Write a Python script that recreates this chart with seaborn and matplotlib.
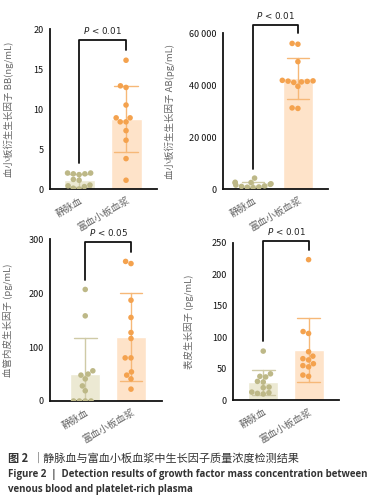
import numpy as np
import pandas as pd
import matplotlib
matplotlib.use('Agg')
import matplotlib.pyplot as plt
import seaborn as sns

sns.set_style('white')
plt.rcParams['font.family'] = ['Noto Sans CJK SC', 'DejaVu Sans']
plt.rcParams['mathtext.fontset'] = 'dejavusans'

groups = ['静脉血', '富血小板血浆']

# 血小板衍生生长因子 BB (ng/mL)
bb_vein = [2.0, 2.0, 1.9, 1.9, 1.8, 1.2, 1.1, 0.5, 0.4, 0.3, 0.1, 0.0]
bb_prp = [16.1, 12.7, 12.9, 10.5, 8.9, 8.4, 8.4, 8.9, 7.3, 6.1, 3.8, 1.1]
# 血小板衍生生长因子 AB (pg/mL)
ab_vein = [4200, 2600, 2500, 2300, 2000, 1800, 1500, 1200, 1000, 800, 700, 500]
ab_prp = [56000, 55700, 49000, 41800, 41600, 41500, 41400, 41200, 41000, 39500, 31000, 31200]
# 血管内皮生长因子 (pg/mL)
vegf_vein = [207, 158, 56, 50, 48, 41, 28, 19, 0, 0, 0, 0]
vegf_prp = [255, 259, 187, 155, 127, 116, 80, 80, 48, 54, 41, 22]
# 表皮生长因子 (pg/mL)
egf_vein = [78, 42, 38, 37, 30, 29, 21, 20, 13, 12, 11, 10]
egf_prp = [223, 109, 106, 77, 70, 66, 64, 58, 55, 53, 40, 38]

ylabels = ['血小板衍生生长因子 BB(ng/mL)', '血小板衍生生长因子 AB(pg/mL)',
           '血管内皮生长因子 (pg/mL)', '表皮生长因子 (pg/mL)']
ptexts = [r'$P$ < 0.01', r'$P$ < 0.01', r'$P$ < 0.05', r'$P$ < 0.01']

dot_c = ['#BDB887', '#F4A24E']
bar_c = ['#ECE9D3', '#FEE3C9']
err_c = ['#CFCAA6', '#F6B878']

panels = [
    dict(vein=bb_vein, prp=bb_prp, rect=[0.1316, 0.6212, 0.2816, 0.3206],
         ylim=20, yticks=[0, 5, 10, 15, 20], xlim=(-0.62, 1.66),
         br=(18.6, 3.3, 17.4), fmt=None, lx=-0.34),
    dict(vein=ab_vein, prp=ab_prp, rect=[0.587, 0.6212, 0.276, 0.3126],
         ylim=60000, yticks=[0, 20000, 40000, 60000], xlim=(-0.67, 1.67),
         br=(63100, 7700, 60000), fmt='sp', lx=-0.46),
    dict(vein=vegf_vein, prp=vegf_prp, rect=[0.1316, 0.1964, 0.295, 0.324],
         ylim=300, yticks=[0, 100, 200, 300], xlim=(-0.77, 1.68),
         br=(295.5, 224, 277), fmt=None, lx=-0.33),
    dict(vein=egf_vein, prp=egf_prp, rect=[0.614, 0.1978, 0.278, 0.316],
         ylim=250, yticks=[0, 50, 100, 150, 200, 250], xlim=(-0.66, 1.67),
         br=(253, 94.5, 239), fmt=None, lx=-0.37),
]

fig = plt.figure(figsize=(3.8, 4.99), dpi=100)

for i, p in enumerate(panels):
    ax = fig.add_axes(p['rect'])
    df = pd.DataFrame({'g': [groups[0]] * len(p['vein']) + [groups[1]] * len(p['prp']),
                       'v': p['vein'] + p['prp']})
    for k, g in enumerate(groups):
        sub = df[df['g'] == g]
        sns.barplot(data=sub, x='g', y='v', order=groups, color=bar_c[k], saturation=1,
                    errorbar='sd', capsize=0.5, width=0.66,
                    err_kws={'color': err_c[k], 'linewidth': 1.0}, ax=ax)
    sns.swarmplot(data=df, x='g', y='v', order=groups, hue='g', palette=dot_c,
                  size=4.0, legend=False, ax=ax, zorder=3)
    ax.set_ylim(0, p['ylim'])
    ax.set_xlim(*p['xlim'])
    ax.set_yticks(p['yticks'])
    if p['fmt'] == 'sp':
        ax.set_yticklabels([f'{t:,}'.replace(',', ' ') for t in p['yticks']])
    ax.set_xlabel('')
    ax.set_ylabel(ylabels[i], fontsize=6.8, color='#666666')
    ax.yaxis.set_label_coords(p['lx'], 0.5)
    for s in ['top', 'right']:
        ax.spines[s].set_visible(False)
    for s in ['left', 'bottom']:
        ax.spines[s].set_linewidth(1.3)
        ax.spines[s].set_color('#111111')
    ax.tick_params(axis='y', length=3, width=1.2, labelsize=6.5, pad=1.5, colors='#111111')
    ax.tick_params(axis='x', length=3, width=1.2, pad=1.5, colors='#111111')
    ax.set_xticks([0, 1])
    ax.set_xticklabels(groups, rotation=30, ha='right', rotation_mode='anchor',
                       fontsize=7, color='#666666')
    top, lv, lp = p['br']
    ax.plot([0, 0, 1, 1], [lv, top, top, lp], color='#111111', lw=1.3,
            clip_on=False, zorder=4)
    ax.text(0.5, top + p['ylim'] * 0.025, ptexts[i], ha='center', va='bottom',
            fontsize=6.3, color='#222222', family=['DejaVu Sans'])

fig.text(0.021, 0.082, '图 2', fontsize=8, fontweight='bold', color='#333333',
         family=['Noto Sans CJK SC'], va='center')
fig.text(0.085, 0.082, '｜静脉血与富血小板血浆中生长因子质量浓度检测结果', fontsize=8,
         color='#333333', family=['Noto Sans CJK SC'], va='center')
fig.text(0.021, 0.050, 'Figure 2  |  Detection results of growth factor mass concentration between',
         fontsize=7.0, fontweight='bold', color='#333333', family=['Open Sans'], va='center')
fig.text(0.021, 0.020, 'venous blood and platelet-rich plasma',
         fontsize=7.0, fontweight='bold', color='#333333', family=['Open Sans'], va='center')

fig.savefig('out.png', dpi=100)
